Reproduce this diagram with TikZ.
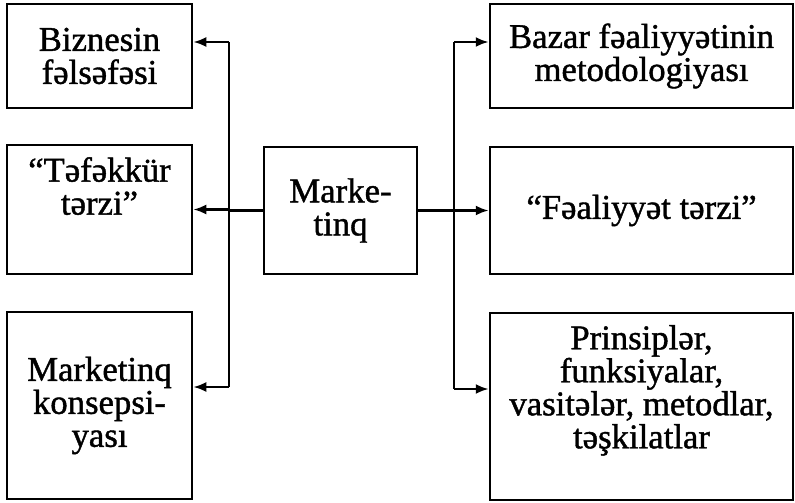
\documentclass[tikz,border=0pt]{standalone}
\usepackage{fontspec}
\setmainfont{Liberation Serif}[FakeBold=1.2]
\usetikzlibrary{arrows.meta}

\tikzset{
  box/.style={draw, line width=2.5pt, inner sep=0pt, align=center},
  txt/.style={anchor=north, align=center, inner sep=0pt},
  link/.style={line width=2.5pt},
}

\begin{document}
\begin{tikzpicture}[x=1pt, y=-1pt, >={Latex[length=13pt,width=10pt]}, font=\fontsize{34.7}{33}\selectfont]
    \useasboundingbox (0,0) rectangle (795,503);
    % left column
    \node[box, minimum width=185pt, minimum height=104pt] (biz) at (99.5,56) {Biznesin\\fəlsəfəsi};
    \node[box, minimum width=185pt, minimum height=129pt] (tef) at (99.5,209.5) {};
    \node[txt] (teftxt) at (99.5,157) {“Təfəkkür\\tərzi”};
    \node[box, minimum width=185pt, minimum height=187pt] (konc) at (99.5,405.5) {Marketinq\\konsepsi-\\yası};
    % centre
    \node[box, minimum width=153pt, minimum height=127pt] (mkt) at (340.5,210.5) {Marke-\\tinq};
    % right column
    \node[box, minimum width=303pt, minimum height=104pt] (baz) at (641.5,56) {Bazar fəaliyyətinin\\metodologiyası};
    \node[box, minimum width=303pt, minimum height=127pt] (fea) at (641.5,210.5) {“Fəaliyyət tərzi”};
    \node[box, minimum width=303pt, minimum height=187pt] (prin) at (641.5,406.5) {};
    \node[txt] (printxt) at (641.5,325) {Prinsiplər,\\funksiyalar,\\vasitələr, metodlar,\\təşkilatlar};
    % buses
    \coordinate (lt) at (229,42);
    \coordinate (lb) at (229,387);
    \coordinate (rt) at (454,42);
    \coordinate (rb) at (454,389);
    \draw[link] (lt) -- (lb);
    \draw[link] (rt) -- (rb);
    \draw[link] (mkt.west) -- (mkt.west -| lt);
    \draw[link] (mkt.east) -- (mkt.east -| rt);
    % arrows to the boxes
    \draw[link, ->] (lt) -- (lt -| biz.east);
    \draw[link, ->] (lt |- tef.east) -- (tef.east);
    \draw[link, ->] (lb) -- (lb -| konc.east);
    \draw[link, ->] (rt) -- (rt -| baz.west);
    \draw[link, ->] (rt |- fea.west) -- (fea.west);
    \draw[link, ->] (rb) -- (rb -| prin.west);
\end{tikzpicture}
\end{document}
